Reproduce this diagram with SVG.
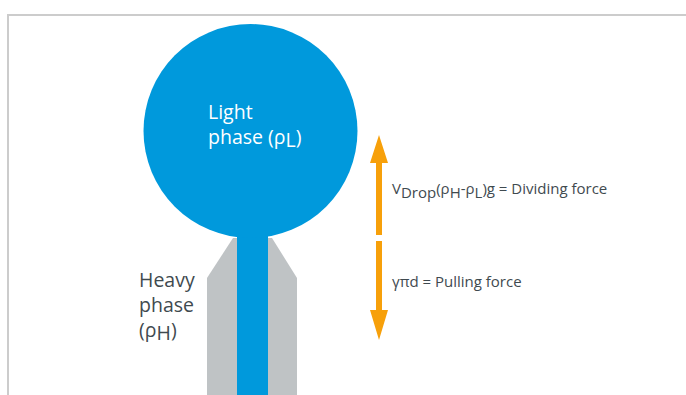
<svg xmlns="http://www.w3.org/2000/svg" width="686" height="395" viewBox="0 0 686 395">
<style>
.t{font-family:"Open Sans","Noto Sans","Liberation Sans",sans-serif;fill:#3f4a4f}
.w{font-family:"Open Sans","Noto Sans","Liberation Sans",sans-serif;fill:#ffffff}
.arr{fill:#f7a00a}
</style>
<rect width="686" height="395" fill="#ffffff"/>
<path d="M8 395 V15 H686" fill="none" stroke="#cccccc" stroke-width="2"/>
<g id="heavy-phase">
<polygon points="233,238 272,238 297,278 297,395 207,395 207,278" fill="#bfc3c5"/>
<text class="t" font-size="19.5" x="139" y="287">Heavy</text>
<text class="t" font-size="19.5" x="139" y="312">phase</text>
<text class="t" font-size="19.5" x="139" y="337">(ρ<tspan dy="3">H</tspan><tspan dy="-3">)</tspan></text>
</g>
<g id="light-phase">
<rect x="237" y="200" width="31" height="195" fill="#0099dc"/>
<circle cx="250.5" cy="131" r="107" fill="#0099dc"/>
<text class="w" font-size="19.5" x="208" y="119">Light</text>
<text class="w" font-size="19.5" x="208" y="144">phase (ρ<tspan dy="3">L</tspan><tspan dy="-3">)</tspan></text>
</g>
<g id="connectors">
<polygon class="arr" points="379,135 388,163 382,163 382,235 376,235 376,163 370,163"/>
<polygon class="arr" points="379,340 388,310 382,310 382,241 376,241 376,310 370,310"/>
</g>
<g id="labels">
<text class="t" font-size="15" x="392" y="194">V<tspan dy="4">Drop</tspan><tspan dy="-4">(ρ</tspan><tspan dy="4">H</tspan><tspan dy="-4">-ρ</tspan><tspan dy="4">L</tspan><tspan dy="-4">)g = Dividing force</tspan></text>
<text class="t" font-size="15" x="392" y="287">γπd = Pulling force</text>
</g>
</svg>
